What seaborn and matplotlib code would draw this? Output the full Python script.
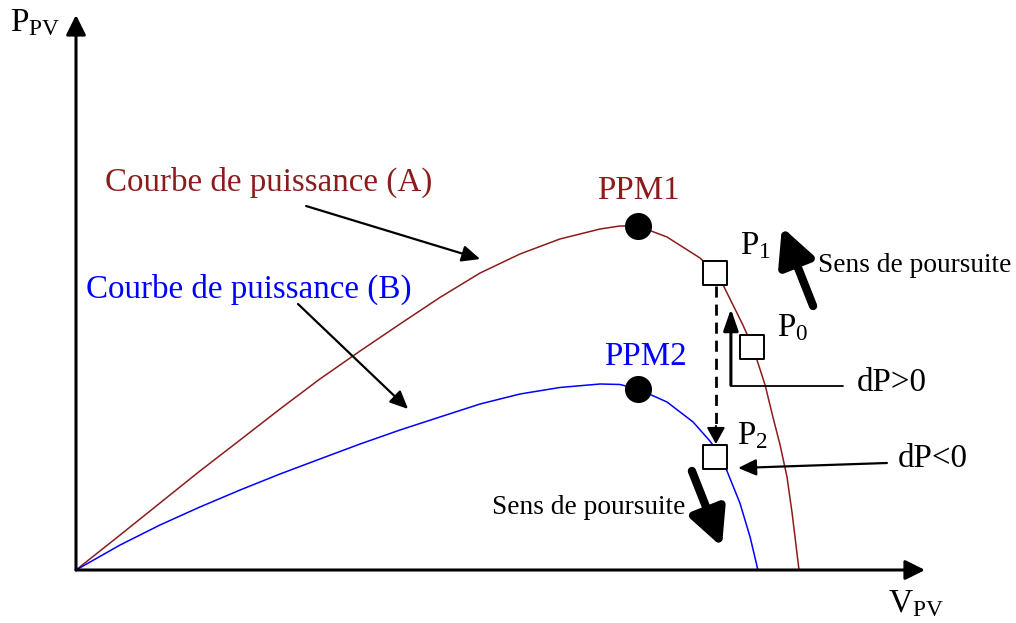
import numpy as np
import pandas as pd
import matplotlib
matplotlib.use('Agg')
import matplotlib.pyplot as plt
import seaborn as sns

# Power curves P = f(V) (arbitrary units)
v_a = [0, 1.47, 2.8, 4.13, 5.47, 6.8, 8.13, 9.47, 10.8, 12.13, 13.47, 14.8, 16.13,
       17.47, 18.13, 18.73, 19.7, 20.8, 21.3, 21.57, 22.23, 22.53, 22.7, 22.97,
       23.23, 23.47, 23.7, 23.87, 24.1]
p_a = [0, 8.75, 16.75, 24.75, 32.5, 40.25, 47.75, 54.75, 61.5, 68.13, 74.25, 79.0,
       82.75, 85.25, 86.0, 86.0, 83.25, 78.0, 74.5, 71.25, 61.25, 56.25, 52.5, 46.25,
       38.25, 31.25, 23.25, 14.25, 0]

v_b = [0, 1.47, 2.8, 4.13, 5.47, 6.8, 8.13, 9.47, 10.8, 12.13, 13.47, 14.8, 16.13,
       17.47, 18.13, 18.73, 19.7, 20.57, 21.13, 21.3, 21.7, 22.13, 22.47, 22.73]
p_b = [0, 6.25, 11.25, 15.75, 20.0, 24.0, 27.75, 31.5, 35.0, 38.25, 41.5, 44.0,
       45.63, 46.5, 46.38, 45.25, 42.0, 37.0, 32.25, 30.5, 24.75, 16.75, 8.25, 0]

# maximum power points
ppm_v = [18.73, 18.73]
ppm_p = [86.0, 45.25]
ppm_names = ['PPM1', 'PPM2']

# operating points P1, P0, P2
op_v = [21.3, 22.53, 21.3]
op_p = [74.25, 55.75, 28.25]
op_names = ['P$_1$', 'P$_0$', 'P$_2$']

RED = '#8b1c1c'
BLUE = '#0000ff'

sns.set_style('white')
plt.rcParams['font.family'] = ['Liberation Serif', 'DejaVu Serif']
plt.rcParams['text.color'] = 'black'
plt.rcParams['mathtext.fontset'] = 'custom'
plt.rcParams['mathtext.rm'] = 'Liberation Serif'
plt.rcParams['mathtext.it'] = 'Liberation Serif:italic'

fig = plt.figure(figsize=(10.16, 6.23), dpi=100)
ax = fig.add_axes([76 / 1016, 53 / 623, 849 / 1016, 555 / 623])
ax.set_xlim(0, 28.3)
ax.set_ylim(0, 138.75)
ax.axis('off')

df_a = pd.DataFrame({'V': v_a, 'P': p_a})
df_b = pd.DataFrame({'V': v_b, 'P': p_b})
sns.lineplot(data=df_a, x='V', y='P', sort=False, color=RED, lw=1.1, ax=ax)
sns.lineplot(data=df_b, x='V', y='P', sort=False, color=BLUE, lw=1.1, ax=ax)

# axes with arrows
ax_arrow = dict(arrowstyle='-|>,head_length=12,head_width=6', mutation_scale=1,
                color='black', lw=2.2, shrinkA=0, shrinkB=0)
ax.annotate('', xy=(28.3, 0), xytext=(0, 0), arrowprops=ax_arrow, annotation_clip=False)
ax.annotate('', xy=(0, 138.75), xytext=(0, 0), arrowprops=ax_arrow, annotation_clip=False)
ax.text(-2.2, 134.75, r'P$_{\mathrm{PV}}$', fontsize=24, ha='left', va='baseline')
ax.text(27.07, -10.5, r'V$_{\mathrm{PV}}$', fontsize=24, ha='left', va='baseline')

# curve names with pointer arrows
thin = dict(arrowstyle='-|>,head_length=11,head_width=5', mutation_scale=1,
            color='black', lw=1.6, shrinkA=0, shrinkB=0)
ax.text(0.97, 97.0, 'Courbe de puissance (A)', color=RED, fontsize=23.8, ha='left', va='center')
ax.annotate('', xy=(13.47, 77.75), xytext=(7.67, 91.0), arrowprops=thin)
ax.text(0.33, 70.25, 'Courbe de puissance (B)', color=BLUE, fontsize=23.8, ha='left', va='center')
ax.annotate('', xy=(11.07, 40.25), xytext=(7.4, 66.5), arrowprops=thin)

# PPM dots
sns.scatterplot(x=ppm_v, y=ppm_p, color='black', s=380, marker='o', edgecolor='black',
                linewidth=0, ax=ax, zorder=5)
ax.text(18.73, 94.75, ppm_names[0], color=RED, fontsize=23.8, ha='center', va='center')
ax.text(18.97, 53.25, ppm_names[1], color=BLUE, fontsize=23.8, ha='center', va='center')

# dashed jump P1 -> P2
ax.plot([21.33, 21.33], [71.0, 35.0], color='black', lw=2.0, ls=(0, (4, 2.5)))
ax.annotate('', xy=(21.33, 31.5), xytext=(21.33, 36.0),
            arrowprops=dict(arrowstyle='-|>,head_length=10,head_width=5.5', mutation_scale=1,
                            color='black', lw=1.5, shrinkA=0, shrinkB=0))

# operating point squares
sns.scatterplot(x=op_v, y=op_p, color='white', s=290, marker='s', edgecolor='black',
                linewidth=1.4, ax=ax, zorder=6)
ax.text(22.13, 79.0, op_names[0], fontsize=23.8, ha='left', va='baseline')
ax.text(23.37, 58.5, op_names[1], fontsize=23.8, ha='left', va='baseline')
ax.text(22.03, 31.5, op_names[2], fontsize=23.8, ha='left', va='baseline')

# dP>0 marker
ax.plot([21.83, 25.57], [46.0, 46.0], color='black', lw=1.3)
ax.annotate('', xy=(21.83, 65.25), xytext=(21.83, 46.2),
            arrowprops=dict(arrowstyle='-|>,head_length=13,head_width=4.5', mutation_scale=1,
                            color='black', lw=2.2, shrinkA=0, shrinkB=0))
ax.text(26.03, 44.75, 'dP>0', fontsize=23.8, ha='left', va='baseline')

# dP<0 marker
ax.annotate('', xy=(22.07, 25.5), xytext=(27.03, 26.75),
            arrowprops=dict(arrowstyle='-|>,head_length=11,head_width=5', mutation_scale=1,
                            color='black', lw=1.6, shrinkA=0, shrinkB=0))
ax.text(27.4, 25.75, 'dP<0', fontsize=23.8, ha='left', va='baseline')

# tracking direction arrows
thick = dict(arrowstyle='-|>,head_length=22,head_width=11', mutation_scale=1,
             color='black', lw=6, shrinkA=0, shrinkB=0)
ax.annotate('', xy=(23.53, 85.75), xytext=(24.57, 66.0), arrowprops=thick)
ax.text(24.73, 76.0, 'Sens de poursuite', fontsize=19.7, ha='left', va='center')
ax.annotate('', xy=(21.53, 5.75), xytext=(20.53, 24.75), arrowprops=thick)
ax.text(13.87, 15.5, 'Sens de poursuite', fontsize=19.7, ha='left', va='center')

fig.savefig('out.png', dpi=100)
